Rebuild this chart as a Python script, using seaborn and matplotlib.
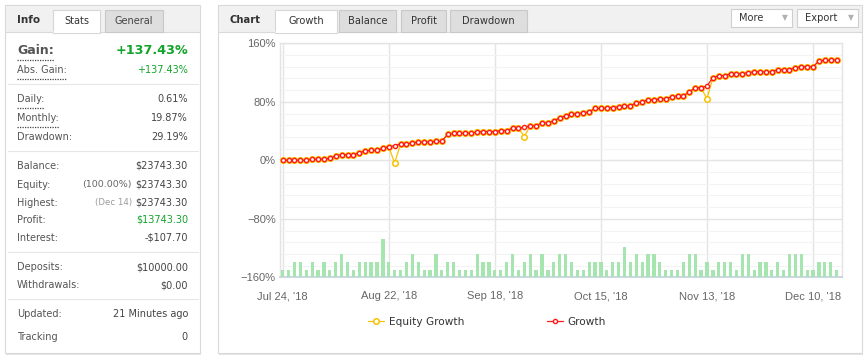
import matplotlib
matplotlib.use("Agg")
import matplotlib.pyplot as plt
import seaborn as sns
from matplotlib.patches import Rectangle
from matplotlib.lines import Line2D
from matplotlib.transforms import Affine2D
from matplotlib.ticker import MultipleLocator

# ---- values ----
growth = [0, 0, 0, 0, 0, 1.4, 1.4, 1.4, 2.7, 5.9, 7.7, 7.7, 7.7, 10.1, 12.8, 13.7,
          13.7, 16.5, 18.3, 20.1, 22.4, 22.4, 23.8, 25.1, 25.1, 25.1, 26.1, 26.1,
          35.7, 37.0, 37.0, 37.0, 37.0, 38.4, 39.3, 39.3, 39.3, 40.7, 40.7, 43.9,
          43.9, 45.3, 47.1, 47.1, 51.2, 51.2, 53.9, 58.1, 60.8, 63.5, 63.5, 64.9,
          66.3, 70.9, 70.9, 71.8, 71.8, 73.1, 74.5, 74.5, 78.6, 80.0, 82.7, 82.7,
          84.1, 84.1, 86.9, 88.2, 88.2, 93.7, 99.2, 99.2, 101.9, 112.9, 115.7,
          115.7, 118.4, 118.4, 118.4, 119.8, 121.1, 121.1, 121.1, 121.1, 123.9,
          123.9, 123.9, 126.6, 128.0, 128.0, 128.0, 135.8, 136.7, 136.7, 137.43]
equity_growth = [0, 0, 0, 0, 0, 1.4, 1.4, 1.4, 2.7, 5.9, 7.7, 7.7, 7.7, 10.1, 12.8, 13.7,
                 13.7, 16.5, 18.3, -3.7, 22.4, 22.4, 23.8, 25.1, 25.1, 25.1, 26.1, 26.1,
                 35.7, 37.0, 37.0, 37.0, 37.0, 38.4, 39.3, 39.3, 39.3, 40.7, 40.7, 43.9,
                 43.9, 32.5, 47.1, 47.1, 51.2, 51.2, 53.9, 58.1, 60.8, 63.5, 63.5, 64.9,
                 66.3, 70.9, 70.9, 71.8, 71.8, 73.1, 74.5, 74.5, 78.6, 80.0, 82.7, 82.7,
                 84.1, 84.1, 86.9, 88.2, 88.2, 93.7, 99.2, 99.2, 84.1, 112.9, 115.7,
                 115.7, 118.4, 118.4, 118.4, 119.8, 121.1, 121.1, 121.1, 121.1, 123.9,
                 123.9, 123.9, 126.6, 128.0, 128.0, 128.0, 135.8, 136.7, 136.7, 137.43]
daily_bars = [1, 1, 2, 2, 1, 2, 1, 2, 1, 2, 3, 2, 1, 2, 2, 2, 2, 5, 2, 1, 1, 2, 3, 2,
              1, 1, 3, 1, 2, 2, 1, 1, 1, 3, 2, 2, 1, 1, 2, 3, 1, 2, 3, 1, 3, 1, 2, 3,
              3, 2, 1, 1, 2, 2, 2, 1, 2, 2, 4, 2, 3, 2, 3, 3, 2, 1, 1, 1, 2, 3, 3, 1,
              2, 1, 2, 2, 2, 1, 3, 3, 1, 2, 2, 1, 2, 1, 3, 3, 3, 1, 1, 2, 2, 2, 1]
date_labels = ["Jul 24, '18", "Aug 22, '18", "Sep 18, '18", "Oct 15, '18",
               "Nov 13, '18", "Dec 10, '18"]
label_every = 18
y_ticks = [-160, -80, 0, 80, 160]
y_tick_labels = ["\u2212160%", "\u221280%", "0%", "80%", "160%"]
series_names = ["Equity Growth", "Growth"]

info_tabs = ["Info", "Stats", "General"]
chart_tabs = ["Chart", "Growth", "Balance", "Profit", "Drawdown"]
chart_buttons = ["More", "Export"]

gain_label = "Gain:"
gain_value = "+137.43%"
stat_labels = ["Abs. Gain:", "Daily:", "Monthly:", "Drawdown:", "Balance:", "Equity:",
               "Highest:", "Profit:", "Interest:", "Deposits:", "Withdrawals:",
               "Updated:", "Tracking"]
stat_notes = ["", "", "", "", "", "(100.00%)", "(Dec 14)", "", "", "", "", "", ""]
stat_values = ["+137.43%", "0.61%", "19.87%", "29.19%", "$23743.30", "$23743.30",
               "$23743.30", "$13743.30", "-$107.70", "$10000.00", "$0.00",
               "21 Minutes ago", "0"]
green_rows = ["Abs. Gain:", "Profit:"]
dotted_rows = ["Abs. Gain:", "Daily:", "Monthly:"]

sns.set_style("white")
plt.rcParams["font.family"] = ["DejaVu Sans"]

W, H = 867, 360
fig = plt.figure(figsize=(W / 100, H / 100), dpi=100)
fig.patch.set_facecolor("white")
px = Affine2D().scale(1 / W, -1 / H).translate(0, 1) + fig.transFigure

GREEN = "#12a32a"


def box(x0, y0, x1, y1, fc, ec="none", lw=0.8, z=-10):
    fig.add_artist(Rectangle((x0, y0), x1 - x0, y1 - y0, transform=px, fc=fc,
                             ec=ec, lw=lw, zorder=z))


def hline(x0, x1, y, color, lw=0.8, ls="-", z=-5):
    fig.add_artist(Line2D([x0, x1], [y, y], transform=px, color=color, lw=lw,
                          ls=ls, zorder=z))


def txt(x, y, s, **kw):
    kw.setdefault("va", "center")
    kw.setdefault("size", 7)
    kw.setdefault("color", "#555555")
    return fig.text(x, y, s, transform=px, **kw)


# ---- panels ----
for x0, x1 in [(5, 200), (218, 862)]:
    box(x0 + 1, 6, x1 + 1, 355, "#e4e4e4", z=-12)
    box(x0, 5, x1, 353, "white", "#d9d9d9", z=-11)
    box(x0 + 0.5, 5.5, x1 - 0.5, 32, "#f1f1f1", z=-10)
    hline(x0, x1, 32, "#d9d9d9", z=-9)

# left header
txt(17, 20, info_tabs[0], weight="bold", size=7.5, color="#333333")
box(53, 10, 100, 32.5, "white", "#d6d6d6", z=-8)
hline(53.6, 99.4, 32.4, "white", lw=1.2, z=-7)
box(105, 10, 163, 31.5, "#dedede", "#c9c9c9", z=-8)
txt(76.5, 21, info_tabs[1], ha="center", size=7, color="#333333")
txt(134, 21, info_tabs[2], ha="center", size=7, color="#444444")

# right header
txt(230, 20, chart_tabs[0], weight="bold", size=7.2, color="#333333")
tab_boxes = [(275, 337), (339, 396), (401, 446), (450, 527)]
for i, (x0, x1) in enumerate(tab_boxes):
    if i == 0:
        box(x0, 10, x1, 32.5, "white", "#d6d6d6", z=-8)
        hline(x0 + 0.6, x1 - 0.6, 32.4, "white", lw=1.2, z=-7)
    else:
        box(x0, 10, x1, 31.5, "#dedede", "#c9c9c9", z=-8)
    txt((x0 + x1) / 2, 21.5, chart_tabs[i + 1], ha="center", size=7.1,
        color="#333333")
for (x0, x1), name in zip([(731, 792), (797, 858)], chart_buttons):
    box(x0, 9, x1, 27, "white", "#cfcfcf", z=-8)
    txt(x0 + 8, 18, name, size=7.1, color="#333333")
    txt(x1 - 7, 18, "\u25bc", ha="center", size=5.5, color="#b0b0b0")

# ---- stats list ----
renderer = fig.canvas.get_renderer()


def underline(t, y):
    bb = t.get_window_extent(renderer)
    hline(bb.x0, bb.x1, y, "#444444", lw=0.9, ls=(0, (1, 1)), z=2)


t = txt(17, 50.5, gain_label, weight="bold", size=9)
underline(t, 60)
txt(188, 50.5, gain_value, ha="right", weight="bold", size=9.2, color=GREEN)

row_y = [70, 99, 118, 137, 166, 184.5, 202.5, 220, 238, 267, 285, 314, 337]
for lab, note, val, y in zip(stat_labels, stat_notes, stat_values, row_y):
    t = txt(17, y, lab)
    if lab in dotted_rows:
        underline(t, y + 9.3)
    v = txt(188, y, val, ha="right", color=GREEN if lab in green_rows else "#444444")
    if note:
        bb = v.get_window_extent(renderer)
        small = note.startswith("(D")
        txt(bb.x0 - 4, y, note, ha="right", size=6.2 if small else 6.8,
            color="#9a9a9a" if small else "#666666")
for y in [84, 151, 252, 299]:
    hline(8, 198, y, "#e6e6e6")

# ---- chart: grid axes, bar overlay, line overlay ----
ax = fig.add_axes([280 / W, 1 - 277.3 / H, 561.7 / W, 234 / H])
axb = ax.twinx()
axl = ax.twinx()
day_idx = list(range(len(growth)))

sns.barplot(x=day_idx, y=daily_bars, ax=axb, color="#a6e4b0", width=0.55,
            native_scale=True, errorbar=None, linewidth=0, saturation=1)
axb.set_ylim(0, 30.5)
axb.axis("off")

sns.lineplot(x=day_idx, y=equity_growth, ax=axl, color="#f7c200", lw=0.9,
             marker="o", markersize=4.0, markerfacecolor="white",
             markeredgecolor="#f7c200", markeredgewidth=1.1, legend=False)
sns.lineplot(x=day_idx, y=growth, ax=axl, color="#ff1a1a", lw=0.9,
             marker="o", markersize=3.0, markerfacecolor="white",
             markeredgecolor="#ff1a1a", markeredgewidth=1.0, legend=False)
axl.set_ylim(-160, 160)
axl.axis("off")

for a in (ax, axb, axl):
    a.set_xlim(-0.46, 94.86)
ax.set_ylim(-160, 160)
ax.set_xticks(day_idx[::label_every])
ax.set_xticklabels(date_labels)
ax.set_yticks(y_ticks)
ax.set_yticklabels(y_tick_labels)
ax.yaxis.set_minor_locator(MultipleLocator(16))
ax.grid(True, which="major", color="#e4e4e4", lw=1)
ax.grid(True, which="minor", axis="y", color="#f3f3f3", lw=0.8)
ax.tick_params(axis="both", which="both", length=0, labelsize=8,
               labelcolor="#666666")
ax.tick_params(axis="x", pad=10)
ax.tick_params(axis="y", pad=3)
for lab in ax.get_xticklabels() + ax.get_yticklabels():
    lab.set_family("Liberation Sans")
for side in ["top", "left", "right"]:
    ax.spines[side].set_color("#e4e4e4")
    ax.spines[side].set_linewidth(1)
ax.spines["bottom"].set_color("#c4d0e0")
ax.spines["bottom"].set_linewidth(1.2)
ax.spines["bottom"].set_zorder(5)

fig.legend(handles=axl.lines[:2], labels=series_names, loc="center",
           bbox_to_anchor=(487 / W, 1 - 322 / H), ncol=2, frameon=False,
           handlelength=1.5, handletextpad=0.5, columnspacing=7.8,
           prop={"size": 7.6}, labelcolor="#333333", numpoints=1)

fig.savefig("out.png", dpi=100)
